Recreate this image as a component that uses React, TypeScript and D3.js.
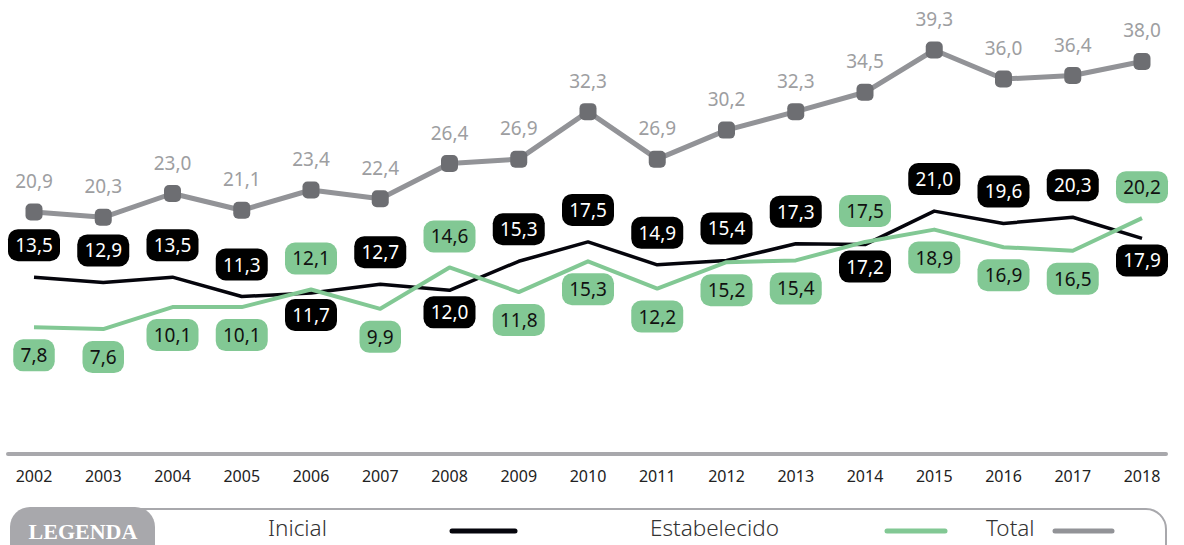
import * as d3 from "d3";

const years = ["2002", "2003", "2004", "2005", "2006", "2007", "2008", "2009", "2010", "2011", "2012", "2013", "2014", "2015", "2016", "2017", "2018"];
const inicial = [13.5, 12.9, 13.5, 11.3, 11.7, 12.7, 12.0, 15.3, 17.5, 14.9, 15.4, 17.3, 17.2, 21.0, 19.6, 20.3, 17.9];
const estabelecido = [7.8, 7.6, 10.1, 10.1, 12.1, 9.9, 14.6, 11.8, 15.3, 12.2, 15.2, 15.4, 17.5, 18.9, 16.9, 16.5, 20.2];
const total = [20.9, 20.3, 23.0, 21.1, 23.4, 22.4, 26.4, 26.9, 32.3, 26.9, 30.2, 32.3, 34.5, 39.3, 36.0, 36.4, 38.0];
// where each value box sits relative to its line: a = above, b = below
const inicialPlace = ["a", "a", "a", "a", "b", "a", "b", "a", "a", "a", "a", "a", "b", "a", "a", "a", "b"];
const estabPlace = ["b", "b", "b", "b", "a", "b", "a", "b", "b", "b", "b", "b", "a", "b", "b", "b", "a"];
const legendItems = ["Inicial", "Estabelecido", "Total"];

const FONT = "'Noto Sans', sans-serif";
const BLACK = "#05050c";
const GREEN = "#82c894";
const GRAY_LINE = "#929397";
const GRAY_DOT = "#6d6e72";
const GRAY_TEXT = "#9d9ea1";
const FRAME = "#a8a8ac";

const W = 1184;
const H = 545;

const fmt = (v: number) => v.toFixed(1).replace(".", ",");

const x = d3.scalePoint<string>().domain(years).range([34, 1142]);
const y = d3.scaleLinear().domain([0, 39.3]).range([396, 50]);

const inicialOffset: Record<string, number> = { a: -32, b: 22 };
const estabOffset: Record<string, number> = { a: -31, b: 28 };

function Badge({ cx, cy, text, fill, color }: { cx: number; cy: number; text: string; fill: string; color: string }) {
  const w = text.length * 10.5 + 10;
  const h = 32;
  return (
    <g>
      <rect x={cx - w / 2} y={cy - h / 2} width={w} height={h} rx={10} fill={fill} />
      <text x={cx} y={cy + 7} textAnchor="middle" fontFamily={FONT} fontSize={19} fill={color}>
        {text}
      </text>
    </g>
  );
}

export default function App() {
  const line = d3
    .line<number>()
    .x((_, i) => x(years[i]) as number)
    .y((d) => y(d));

  const legendX = [268, 650, 986];
  const legendLine = [[452, 515], [887, 945], [1055, 1112]];
  const legendColor = [BLACK, GREEN, GRAY_LINE];

  return (
    <svg width={W} height={H} style={{ position: "absolute", left: 0, top: 0, background: "#fff" }}>
      {/* baseline */}
      <line x1={8} x2={1166} y1={454} y2={454} stroke={FRAME} strokeWidth={4} strokeLinecap="round" />
      {years.map((yr) => (
        <text key={yr} x={x(yr)} y={482} textAnchor="middle" fontFamily={FONT} fontSize={16} fill="#222">
          {yr}
        </text>
      ))}

      {/* lines */}
      <path d={line(total) || ""} fill="none" stroke={GRAY_LINE} strokeWidth={5} strokeLinejoin="round" />
      <path d={line(inicial) || ""} fill="none" stroke={BLACK} strokeWidth={3.5} strokeLinejoin="round" />
      <path d={line(estabelecido) || ""} fill="none" stroke={GREEN} strokeWidth={4} strokeLinejoin="round" />

      {/* total points and labels */}
      {total.map((v, i) => {
        const cx = x(years[i]) as number;
        const cy = y(v);
        return (
          <g key={"t" + i}>
            <rect x={cx - 8.5} y={cy - 8.5} width={17} height={17} rx={5} fill={GRAY_DOT} />
            <text x={cx} y={cy - 24} textAnchor="middle" fontFamily={FONT} fontSize={19} fill={GRAY_TEXT}>
              {fmt(v)}
            </text>
          </g>
        );
      })}

      {/* estabelecido badges */}
      {estabelecido.map((v, i) => (
        <Badge
          key={"e" + i}
          cx={x(years[i]) as number}
          cy={y(v) + estabOffset[estabPlace[i]]}
          text={fmt(v)}
          fill={GREEN}
          color="#111"
        />
      ))}
      {/* inicial badges */}
      {inicial.map((v, i) => (
        <Badge
          key={"i" + i}
          cx={x(years[i]) as number}
          cy={y(v) + inicialOffset[inicialPlace[i]]}
          text={fmt(v)}
          fill="#000"
          color="#fff"
        />
      ))}

      {/* legend frame */}
      <path
        d="M 140 509 L 1146 509 A 20 20 0 0 1 1166 529 L 1166 560"
        fill="none"
        stroke={FRAME}
        strokeWidth={2}
      />
      <rect x={10} y={507} width={145} height={60} rx={20} fill={FRAME} />
      <text x={83} y={539} textAnchor="middle" fontFamily="'Liberation Serif', 'DejaVu Serif', serif" fontWeight="bold" fontSize={22} fill="#fff">
        LEGENDA
      </text>
      {legendItems.map((name, i) => (
        <g key={name}>
          <text x={legendX[i]} y={536} fontFamily={FONT} fontWeight={300} fontSize={22.5} fill="#333">
            {name}
          </text>
          <line
            x1={legendLine[i][0]}
            x2={legendLine[i][1]}
            y1={531}
            y2={531}
            stroke={legendColor[i]}
            strokeWidth={5}
            strokeLinecap="round"
          />
        </g>
      ))}
    </svg>
  );
}
